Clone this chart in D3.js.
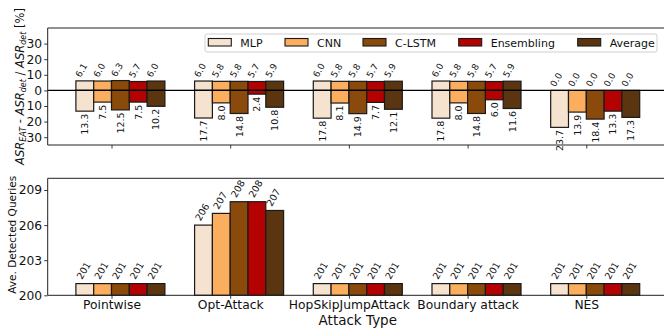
<!DOCTYPE html>
<html>
<head>
<meta charset="utf-8">
<script src="https://cdn.jsdelivr.net/npm/d3@7"></script>
<style>
  html, body { margin: 0; padding: 0; background: #fff; }
  svg { display: block; font-family: "DejaVu Sans", sans-serif; }
</style>
</head>
<body>
<svg id="chart" width="664" height="328"></svg>
<script>
// Attack types on the x axis and the models compared in each group
const categories = ["Pointwise", "Opt-Attack", "HopSkipJumpAttack", "Boundary attack", "NES"];
const models = ["MLP", "CNN", "C-LSTM", "Ensembling", "Average"];
const modelColors = ["#f6e3cf", "#fbae5e", "#8a4a0b", "#b40101", "#5b3510"];

// ASR change above zero (%)
const gainMLP        = [6.1, 6.0, 6.0, 6.0, 0.0];
const gainCNN        = [6.0, 5.8, 5.8, 5.8, 0.0];
const gainCLSTM      = [6.3, 5.8, 5.8, 5.8, 0.0];
const gainEnsembling = [5.7, 5.7, 5.7, 5.7, 0.0];
const gainAverage    = [6.0, 5.9, 5.9, 5.9, 0.0];

// ASR change below zero (%), plotted downward
const lossMLP        = [13.3, 17.7, 17.8, 17.8, 23.7];
const lossCNN        = [7.5, 8.0, 8.1, 8.0, 13.9];
const lossCLSTM      = [12.5, 14.8, 14.9, 14.8, 18.4];
const lossEnsembling = [7.5, 2.4, 7.7, 6.0, 13.3];
const lossAverage    = [10.2, 10.8, 12.1, 11.6, 17.3];

// Average number of detected queries
const queriesMLP        = [201, 206, 201, 201, 201];
const queriesCNN        = [201, 207, 201, 201, 201];
const queriesCLSTM      = [201, 208, 201, 201, 201];
const queriesEnsembling = [201, 208, 201, 201, 201];
const queriesAverage    = [201, 207.25, 201, 201, 201];

// Tick values
const topTicks = [-30, -20, -10, 0, 10, 20, 30];
const bottomTicks = [200, 203, 206, 209];

const gains = [gainMLP, gainCNN, gainCLSTM, gainEnsembling, gainAverage];
const losses = [lossMLP, lossCNN, lossCLSTM, lossEnsembling, lossAverage];
const queries = [queriesMLP, queriesCNN, queriesCLSTM, queriesEnsembling, queriesAverage];

const svg = d3.select("#chart");
const FONT = "DejaVu Sans";

const left = 47.7, right = 667.9;
const top1 = 28, bot1 = 145;
const top2 = 178.3, bot2 = 295.3;
const barW = 0.15;

const x = d3.scaleLinear().domain([-0.5375, 4.6875]).range([left, right]);
const yTop = d3.scaleLinear().domain([-35, 40]).range([bot1, top1]);
const yBot = d3.scaleLinear().domain([200, 210]).range([bot2, top2]);

const barLeft = (ci, mi) => x(ci + (mi - 2) * barW);
const bwPx = x(barW) - x(0);

// flat rows for drawing
const rows = [];
categories.forEach((c, ci) => models.forEach((m, mi) => {
  rows.push({ ci, mi, gain: gains[mi][ci], loss: losses[mi][ci], q: queries[mi][ci] });
}));

function styleAxis(g, fs) {
  g.select(".domain").remove();
  g.selectAll(".tick line").attr("stroke", "#222").attr("stroke-width", 0.9);
  g.selectAll(".tick text").attr("font-family", FONT).attr("font-size", fs).attr("fill", "#111");
}

// ---------- top panel: ASR change ----------
const pTop = svg.append("g");

pTop.append("g")
  .attr("transform", `translate(${left},0)`)
  .call(d3.axisLeft(yTop).tickValues(topTicks).tickFormat(d => Math.abs(d)).tickSize(3.5).tickPadding(2))
  .call(g => styleAxis(g, 12.3));

pTop.append("g")
  .attr("transform", `translate(0,${bot1})`)
  .call(d3.axisBottom(x).tickValues(d3.range(categories.length)).tickFormat("").tickSize(3.5))
  .call(g => styleAxis(g, 12));

// bars above zero
pTop.selectAll("rect.gain").data(rows).join("rect")
  .attr("class", "gain")
  .attr("x", d => barLeft(d.ci, d.mi))
  .attr("width", bwPx)
  .attr("y", d => yTop(d.gain))
  .attr("height", d => yTop(0) - yTop(d.gain))
  .attr("fill", d => modelColors[d.mi])
  .attr("stroke", "#1a1a1a").attr("stroke-width", 1.2);

// bars below zero
pTop.selectAll("rect.loss").data(rows).join("rect")
  .attr("class", "loss")
  .attr("x", d => barLeft(d.ci, d.mi))
  .attr("width", bwPx)
  .attr("y", yTop(0))
  .attr("height", d => yTop(-d.loss) - yTop(0))
  .attr("fill", d => modelColors[d.mi])
  .attr("stroke", "#1a1a1a").attr("stroke-width", 1.2);

// zero line
pTop.append("line")
  .attr("x1", left).attr("x2", right)
  .attr("y1", yTop(0)).attr("y2", yTop(0))
  .attr("stroke", "#000").attr("stroke-width", 1.1);

// value labels above bars (slanted)
const fsUp = 9;
pTop.selectAll("text.gainLbl").data(rows).join("text")
  .attr("class", "gainLbl")
  .attr("font-family", FONT).attr("font-size", fsUp).attr("fill", "#111")
  .attr("transform", d => {
    const ax = barLeft(d.ci, d.mi) + 0.866 * 0.73 * fsUp - 1;
    const ay = yTop(d.gain) - 3;
    return `translate(${ax},${ay}) rotate(-60)`;
  })
  .text(d => d3.format(".1f")(d.gain));

// value labels below bars (vertical)
const fsDown = 9.5;
pTop.selectAll("text.lossLbl").data(rows).join("text")
  .attr("class", "lossLbl")
  .attr("font-family", FONT).attr("font-size", fsDown).attr("fill", "#111")
  .attr("text-anchor", "end")
  .attr("transform", d => {
    const ax = barLeft(d.ci, d.mi) + bwPx / 2 + 0.365 * fsDown;
    const ay = yTop(-d.loss) + 2.5;
    return `translate(${ax},${ay}) rotate(-90)`;
  })
  .text(d => d3.format(".1f")(d.loss));

// frame
pTop.append("path")
  .attr("d", `M${left},${bot1}V${top1}H${right}V${bot1}Z`)
  .attr("fill", "none").attr("stroke", "#222").attr("stroke-width", 1);

// y label with subscripts
const yl = svg.append("text")
  .attr("font-family", FONT).attr("font-size", 11.5).attr("fill", "#111")
  .attr("text-anchor", "middle")
  .attr("transform", `translate(24,${(top1 + bot1) / 2}) rotate(-90)`);
const parts = [
  ["ASR", "i", 0], ["EAT", "i", 1], [" - ", "n", 0],
  ["ASR", "i", 0], ["det", "i", 1], [" / ", "n", 0],
  ["ASR", "i", 0], ["det", "i", 1], [" [%]", "n", 0]
];
parts.forEach(([t, st, sub]) => {
  const ts = yl.append("tspan").text(t)
    .attr("font-style", st === "i" ? "italic" : "normal");
  if (sub) ts.attr("font-size", 8).attr("baseline-shift", "-25%");
});

// legend
const leg = svg.append("g");
leg.append("rect")
  .attr("x", 205).attr("y", 34).attr("width", 452).attr("height", 18)
  .attr("rx", 2).attr("fill", "#fff").attr("fill-opacity", 0.85)
  .attr("stroke", "#d0d0d0").attr("stroke-width", 1);
const legPatchX = [208.3, 285, 363, 458.7, 577.7];
models.forEach((m, i) => {
  leg.append("rect")
    .attr("x", legPatchX[i]).attr("y", 38.5).attr("width", 23).attr("height", 7.5)
    .attr("fill", modelColors[i]).attr("stroke", "#1a1a1a").attr("stroke-width", 1.1);
  leg.append("text")
    .attr("x", legPatchX[i] + 32).attr("y", 46.5)
    .attr("font-family", FONT).attr("font-size", 11).attr("fill", "#111")
    .text(m);
});

// ---------- bottom panel: detected queries ----------
const pBot = svg.append("g");

pBot.append("g")
  .attr("transform", `translate(${left},0)`)
  .call(d3.axisLeft(yBot).tickValues(bottomTicks).tickSize(3.5).tickPadding(2))
  .call(g => styleAxis(g, 12.3));

pBot.append("g")
  .attr("transform", `translate(0,${bot2})`)
  .call(d3.axisBottom(x).tickValues(d3.range(categories.length)).tickFormat(i => categories[i]).tickSize(3.5).tickPadding(1.5))
  .call(g => styleAxis(g, 12.3));

pBot.selectAll("rect.q").data(rows).join("rect")
  .attr("class", "q")
  .attr("x", d => barLeft(d.ci, d.mi))
  .attr("width", bwPx)
  .attr("y", d => yBot(d.q))
  .attr("height", d => yBot(200) - yBot(d.q))
  .attr("fill", d => modelColors[d.mi])
  .attr("stroke", "#1a1a1a").attr("stroke-width", 1.2);

const fsQ = 9.5;
pBot.selectAll("text.qLbl").data(rows).join("text")
  .attr("class", "qLbl")
  .attr("font-family", FONT).attr("font-size", fsQ).attr("fill", "#111")
  .attr("transform", d => {
    const ax = barLeft(d.ci, d.mi) + 0.866 * 0.73 * fsQ;
    const ay = yBot(d.q) - 3.5;
    return `translate(${ax},${ay}) rotate(-60)`;
  })
  .text(d => d3.format("d")(Math.round(d.q)));

pBot.append("path")
  .attr("d", `M${left},${bot2}V${top2}H${right}V${bot2}Z`)
  .attr("fill", "none").attr("stroke", "#222").attr("stroke-width", 1);

svg.append("text")
  .attr("font-family", FONT).attr("font-size", 10.5).attr("fill", "#111")
  .attr("text-anchor", "middle")
  .attr("transform", `translate(16,${(top2 + bot2) / 2 - 2}) rotate(-90)`)
  .text("Ave. Detected Queries");

svg.append("text")
  .attr("font-family", FONT).attr("font-size", 13.5).attr("fill", "#111")
  .attr("text-anchor", "middle")
  .attr("x", (left + right) / 2).attr("y", 325)
  .text("Attack Type");
</script>
</body>
</html>
